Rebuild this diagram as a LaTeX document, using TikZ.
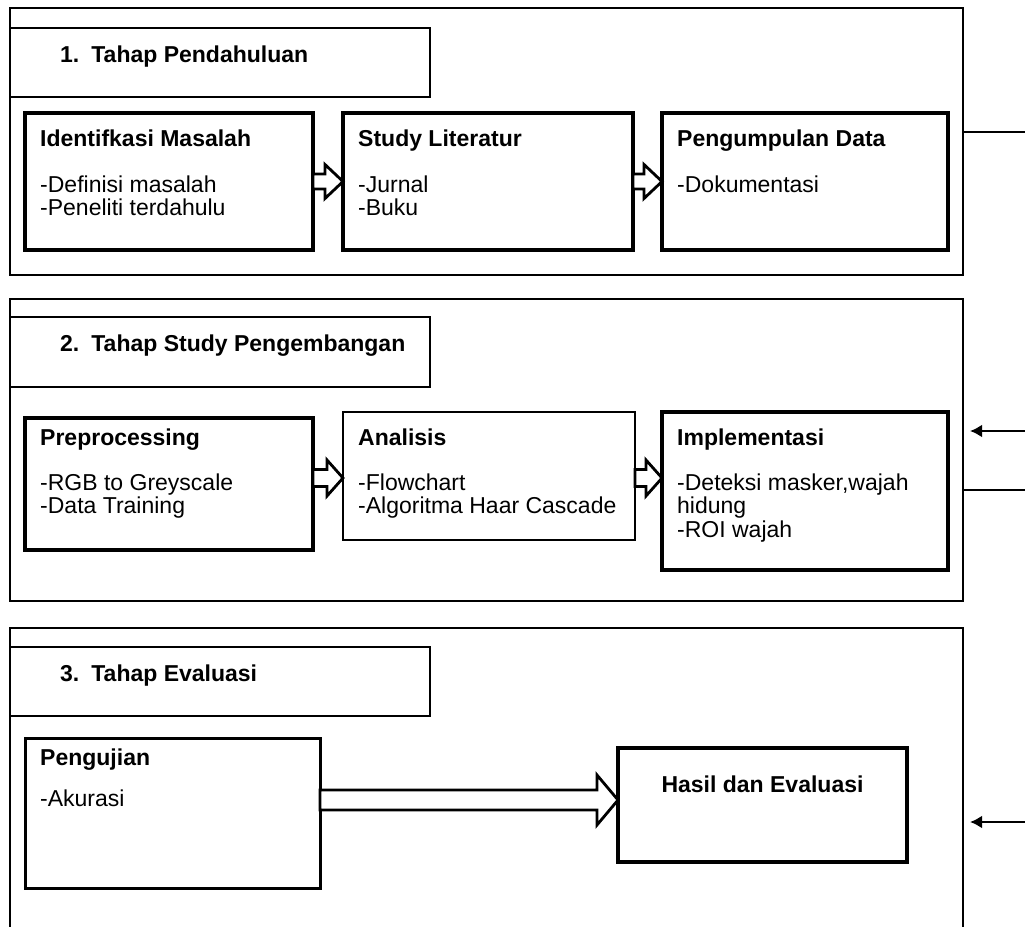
\documentclass[tikz,border=0pt]{standalone}
\usepackage{fontspec}
\setmainfont{Liberation Sans}[Ligatures={NoCommon}]
\usetikzlibrary{arrows.meta,positioning,calc}
\tikzset{
 stage/.style={draw=black,line width=2.3pt,inner sep=0pt,outer sep=0pt,
   minimum width=953pt,anchor=north west},
 head/.style={draw=black,line width=1.8pt,inner sep=0pt,outer sep=0pt,
   minimum width=420pt,minimum height=69pt,anchor=north west},
 box/.style={draw=black,line width=3.6pt,inner sep=0pt,outer sep=0pt,anchor=north west},
 txt/.style={inner sep=0pt,align=left,anchor=north west,
   font=\fontsize{23}{23.5}\selectfont},
 headtxt/.style={inner sep=0pt,anchor=base west,font=\fontsize{23}{23.5}\selectfont\bfseries},
 hollow/.style={draw=black,line width=2.8pt,fill=white,line join=miter},
 link/.style={line width=2.6pt,draw=black},
 back/.style={link,-{Latex[length=12pt,width=13pt]},shorten >=7pt}
}
% open block arrow from box #1 to box #2 (y shift, half body, half head, head length)
\newcommand{\hollowarr}[6]{%
 \coordinate (#1-#2-s) at ($(#1.east)+(0,#3)$);
 \coordinate (#1-#2-t) at (#2.west |- #1-#2-s);
 \draw[hollow] (#1-#2-t) -- ++(-#6,-#5) -- ++(0,#5-#4) -- ($(#1-#2-s)+(0,-#4)$)
   -- ++(0,2*#4) -- ($(#1-#2-t)+(-#6,#4)$) -- ++(0,#5-#4) -- cycle;}

\begin{document}
\begin{tikzpicture}[x=1pt,y=-1pt]
\clip (0,0) rectangle (1025,926);
% stage frames
\node[stage,minimum height=267pt] (s1) at (10,8) {};
\node[stage,minimum height=302pt] (s2) at (10,299) {};
\node[stage,minimum height=320pt] (s3) at (10,628) {};
\node[head] (t1) at (10,28) {};
\node[head,minimum height=70pt] (t2) at (10,317) {};
\node[head] (t3) at (10,647) {};
\node[headtxt] (t1-t) at ($(t1.north west)+(50,34)$) {1.\hspace{12pt}Tahap Pendahuluan};
\node[headtxt] (t2-t) at ($(t2.north west)+(50,34)$) {2.\hspace{12pt}Tahap Study Pengembangan};
\node[headtxt] (t3-t) at ($(t3.north west)+(50,34)$) {3.\hspace{12pt}Tahap Evaluasi};

% stage 1
\node[box,minimum width=288pt,minimum height=137pt] (idm) at (25,113) {};
\node[box,minimum width=290pt,minimum height=137pt,right=30pt of idm] (lit) {};
\node[box,minimum width=286pt,minimum height=137pt,right=29pt of lit] (pdata) {};
\node[txt,below right=17pt and 15pt of idm.north west] (idm-t)
  {\textbf{Identifkasi Masalah}\\[22pt]-Definisi masalah\\-Peneliti terdahulu};
\node[txt,below right=17pt and 15pt of lit.north west] (lit-t)
  {\textbf{Study Literatur}\\[22pt]-Jurnal\\-Buku};
\node[txt,below right=17pt and 15pt of pdata.north west] (pdata-t)
  {\textbf{Pengumpulan Data}\\[22pt]-Dokumentasi};

% stage 2
\node[box,minimum width=288pt,minimum height=132pt] (pre) at (25,418) {};
\node[box,line width=2.4pt,minimum width=292pt,minimum height=128pt] (ana) at (343,412) {};
\node[box,minimum width=286pt,minimum height=158pt] (imp) at (662,412) {};
\node[txt,below right=11pt and 15pt of pre.north west] (pre-t)
  {\textbf{Preprocessing}\\[21pt]-RGB to Greyscale\\-Data Training};
\node[txt,below right=17pt and 15pt of ana.north west] (ana-t)
  {\textbf{Analisis}\\[21pt]-Flowchart\\-Algoritma Haar Cascade};
\node[txt,below right=17pt and 15pt of imp.north west] (imp-t)
  {\textbf{Implementasi}\\[21pt]-Deteksi masker,wajah\\hidung\\-ROI wajah};

% stage 3
\node[box,line width=3pt,minimum width=295pt,minimum height=150pt] (peng) at (25,738) {};
\node[box,line width=4.5pt,minimum width=289pt,minimum height=114pt] (hasil) at (618,748) {};
\node[txt,below right=11pt and 15pt of peng.north west] (peng-t)
  {\textbf{Pengujian}\\[17pt]-Akurasi};
\node[txt,anchor=north] (hasil-t) at ($(hasil.north)+(0,28)$) {\textbf{Hasil dan Evaluasi}};

% block arrows
\hollowarr{idm}{lit}{0}{7.5}{17}{18}
\hollowarr{lit}{pdata}{0}{7.5}{17}{18}
\hollowarr{pre}{ana}{-6}{8.5}{18}{16}
\hollowarr{ana}{imp}{2}{8.5}{18}{16}
\hollowarr{peng}{hasil}{-13}{10}{25}{21}

% links at the right edge
\coordinate (out1) at (1025,132);
\coordinate (in2) at (1025,431);
\coordinate (out2) at (1025,490);
\coordinate (in3) at (1025,822);
\draw[link] (s1.east |- out1) -- (out1);
\draw[back] (in2) -- (s2.east |- in2);
\draw[link] (s2.east |- out2) -- (out2);
\draw[back] (in3) -- (s3.east |- in3);
\end{tikzpicture}
\end{document}
